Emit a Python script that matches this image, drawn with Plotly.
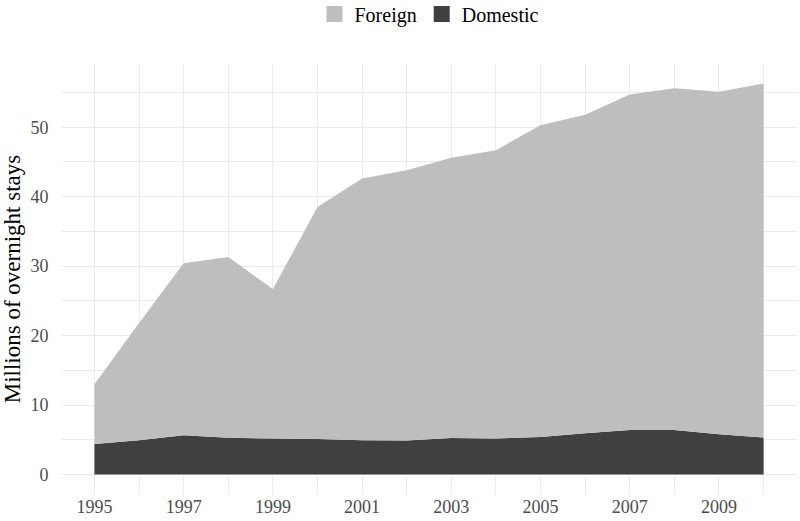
import plotly.graph_objects as go

# overnight stays, millions
years = list(range(1995, 2011))
domestic = [4.4, 4.95, 5.65, 5.3, 5.2, 5.1, 4.95, 4.9, 5.25, 5.2, 5.4, 5.95, 6.4, 6.4, 5.8, 5.35]
total = [13.0, 21.8, 30.4, 31.3, 26.7, 38.5, 42.6, 43.8, 45.6, 46.7, 50.3, 51.8, 54.7, 55.6, 55.1, 56.3]
foreign = [round(t - d, 2) for t, d in zip(total, domestic)]

col_foreign = "#bebebe"
col_domestic = "#404040"
font_family = "Liberation Serif"

fig = go.Figure()

# stacked areas, domestic at the bottom
fig.add_trace(go.Scatter(x=years, y=domestic, name="Domestic", stackgroup="one",
                         mode="none", fillcolor=col_domestic, showlegend=False,
                         legendgroup="dom"))
fig.add_trace(go.Scatter(x=years, y=foreign, name="Foreign", stackgroup="one",
                         mode="none", fillcolor=col_foreign, showlegend=False,
                         legendgroup="for"))

# square swatches for the legend
for name, col, grp in [("Foreign", col_foreign, "for"), ("Domestic", col_domestic, "dom")]:
    fig.add_trace(go.Scatter(x=[None], y=[None], mode="markers", name=name,
                             legendgroup=grp,
                             marker=dict(symbol="square", size=26, color=col)))

grid = "#ebebeb"
fig.update_layout(
    width=800, height=521,
    margin=dict(l=61, r=3, t=64, b=27),
    paper_bgcolor="white", plot_bgcolor="white",
    font=dict(family=font_family, size=18, color="#4d4d4d"),
    legend=dict(orientation="h", x=0.5, xanchor="center",
                y=0.973, yref="container", yanchor="middle",
                font=dict(size=20, color="black"),
                itemsizing="trace", traceorder="normal"),
    xaxis=dict(range=[1994.25, 2010.75], tick0=1995, dtick=2, showgrid=True,
               gridcolor=grid, gridwidth=1.2, zeroline=False, showline=False,
               ticks="", automargin=False,
               minor=dict(dtick=1, tick0=1995, showgrid=True, gridcolor=grid, gridwidth=0.6)),
    yaxis=dict(range=[-2.8, 59.1], tick0=0, dtick=10, showgrid=True,
               gridcolor=grid, gridwidth=1.2, zeroline=False, showline=False,
               ticks="outside", ticklen=8, tickcolor="rgba(0,0,0,0)", automargin=False,
               title=dict(text="Millions of overnight stays", standoff=9,
                          font=dict(size=23, color="black")),
               minor=dict(dtick=5, tick0=0, showgrid=True, gridcolor=grid, gridwidth=0.6)),
)

# drop the browser's default body margin so the figure sits at the page corner
fig.write_html("out.html", config={"displayModeBar": False},
               post_script="document.body.style.margin = '0';")
